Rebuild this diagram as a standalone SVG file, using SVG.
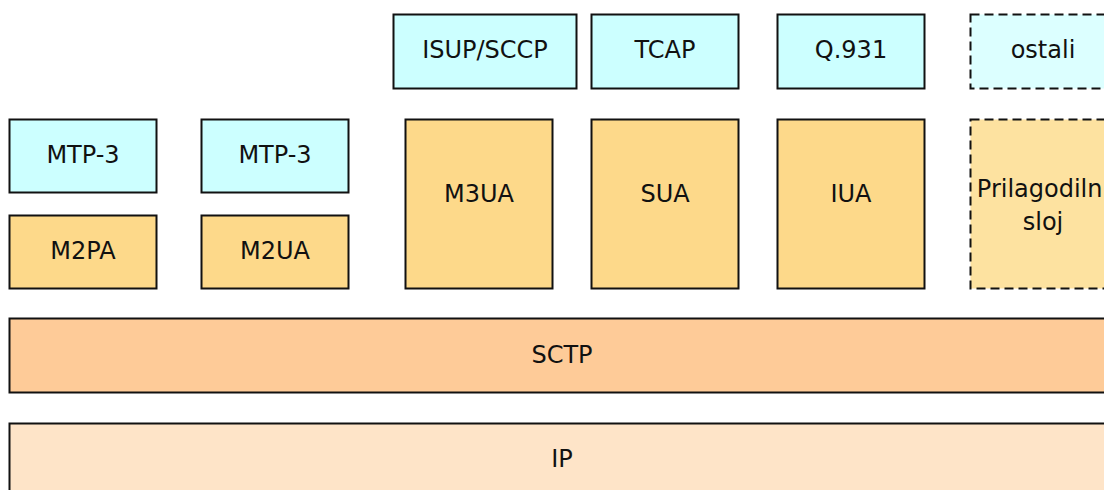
<svg xmlns="http://www.w3.org/2000/svg" width="1104" height="490" viewBox="0 0 1104 490">
<style>
.b{stroke:#111;stroke-width:2}
.c{fill:#ccffff}
.cd{fill:#dcffff;stroke-dasharray:9,5}
.o{fill:#fdd98a}
.od{fill:#fde2a0;stroke-dasharray:9,5}
.s{fill:#fecb98}
.ip{fill:#fee4c8}
text{font-family:"DejaVu Sans",sans-serif;font-size:24px;fill:#111;text-anchor:middle}
</style>
<rect width="1104" height="490" fill="#fff"/>
<g id="isup"><rect class="b c" x="393.5" y="14.5" width="183" height="74"/><text x="485" y="58">ISUP/SCCP</text></g>
<g id="tcap"><rect class="b c" x="591.5" y="14.5" width="147" height="74"/><text x="665" y="58">TCAP</text></g>
<g id="q931"><rect class="b c" x="777.5" y="14.5" width="147" height="74"/><text x="851" y="58">Q.931</text></g>
<g id="ostali"><rect class="b cd" x="970.5" y="14.5" width="147" height="74"/><text x="1043" y="58">ostali</text></g>
<g id="mtp3a"><rect class="b c" x="9.5" y="119.5" width="147" height="73"/><text x="83" y="163">MTP-3</text></g>
<g id="mtp3b"><rect class="b c" x="201.5" y="119.5" width="147" height="73"/><text x="275" y="163">MTP-3</text></g>
<g id="m2pa"><rect class="b o" x="9.5" y="215.5" width="147" height="73"/><text x="83" y="259">M2PA</text></g>
<g id="m2ua"><rect class="b o" x="201.5" y="215.5" width="147" height="73"/><text x="275" y="259">M2UA</text></g>
<g id="m3ua"><rect class="b o" x="405.5" y="119.5" width="147" height="169"/><text x="479" y="202">M3UA</text></g>
<g id="sua"><rect class="b o" x="591.5" y="119.5" width="147" height="169"/><text x="665" y="202">SUA</text></g>
<g id="iua"><rect class="b o" x="777.5" y="119.5" width="147" height="169"/><text x="851" y="202">IUA</text></g>
<g id="prilagodilni"><rect class="b od" x="970.5" y="119.5" width="147" height="169"/><text x="1043" y="197">Prilagodilni</text><text x="1043" y="230">sloj</text></g>
<g id="sctp"><rect class="b s" x="9.5" y="318.5" width="1105" height="74"/><text x="562" y="363">SCTP</text></g>
<g id="ip"><rect class="b ip" x="9.5" y="423.5" width="1105" height="74"/><text x="562" y="467">IP</text></g>
<g id="connectors"></g>
</svg>
